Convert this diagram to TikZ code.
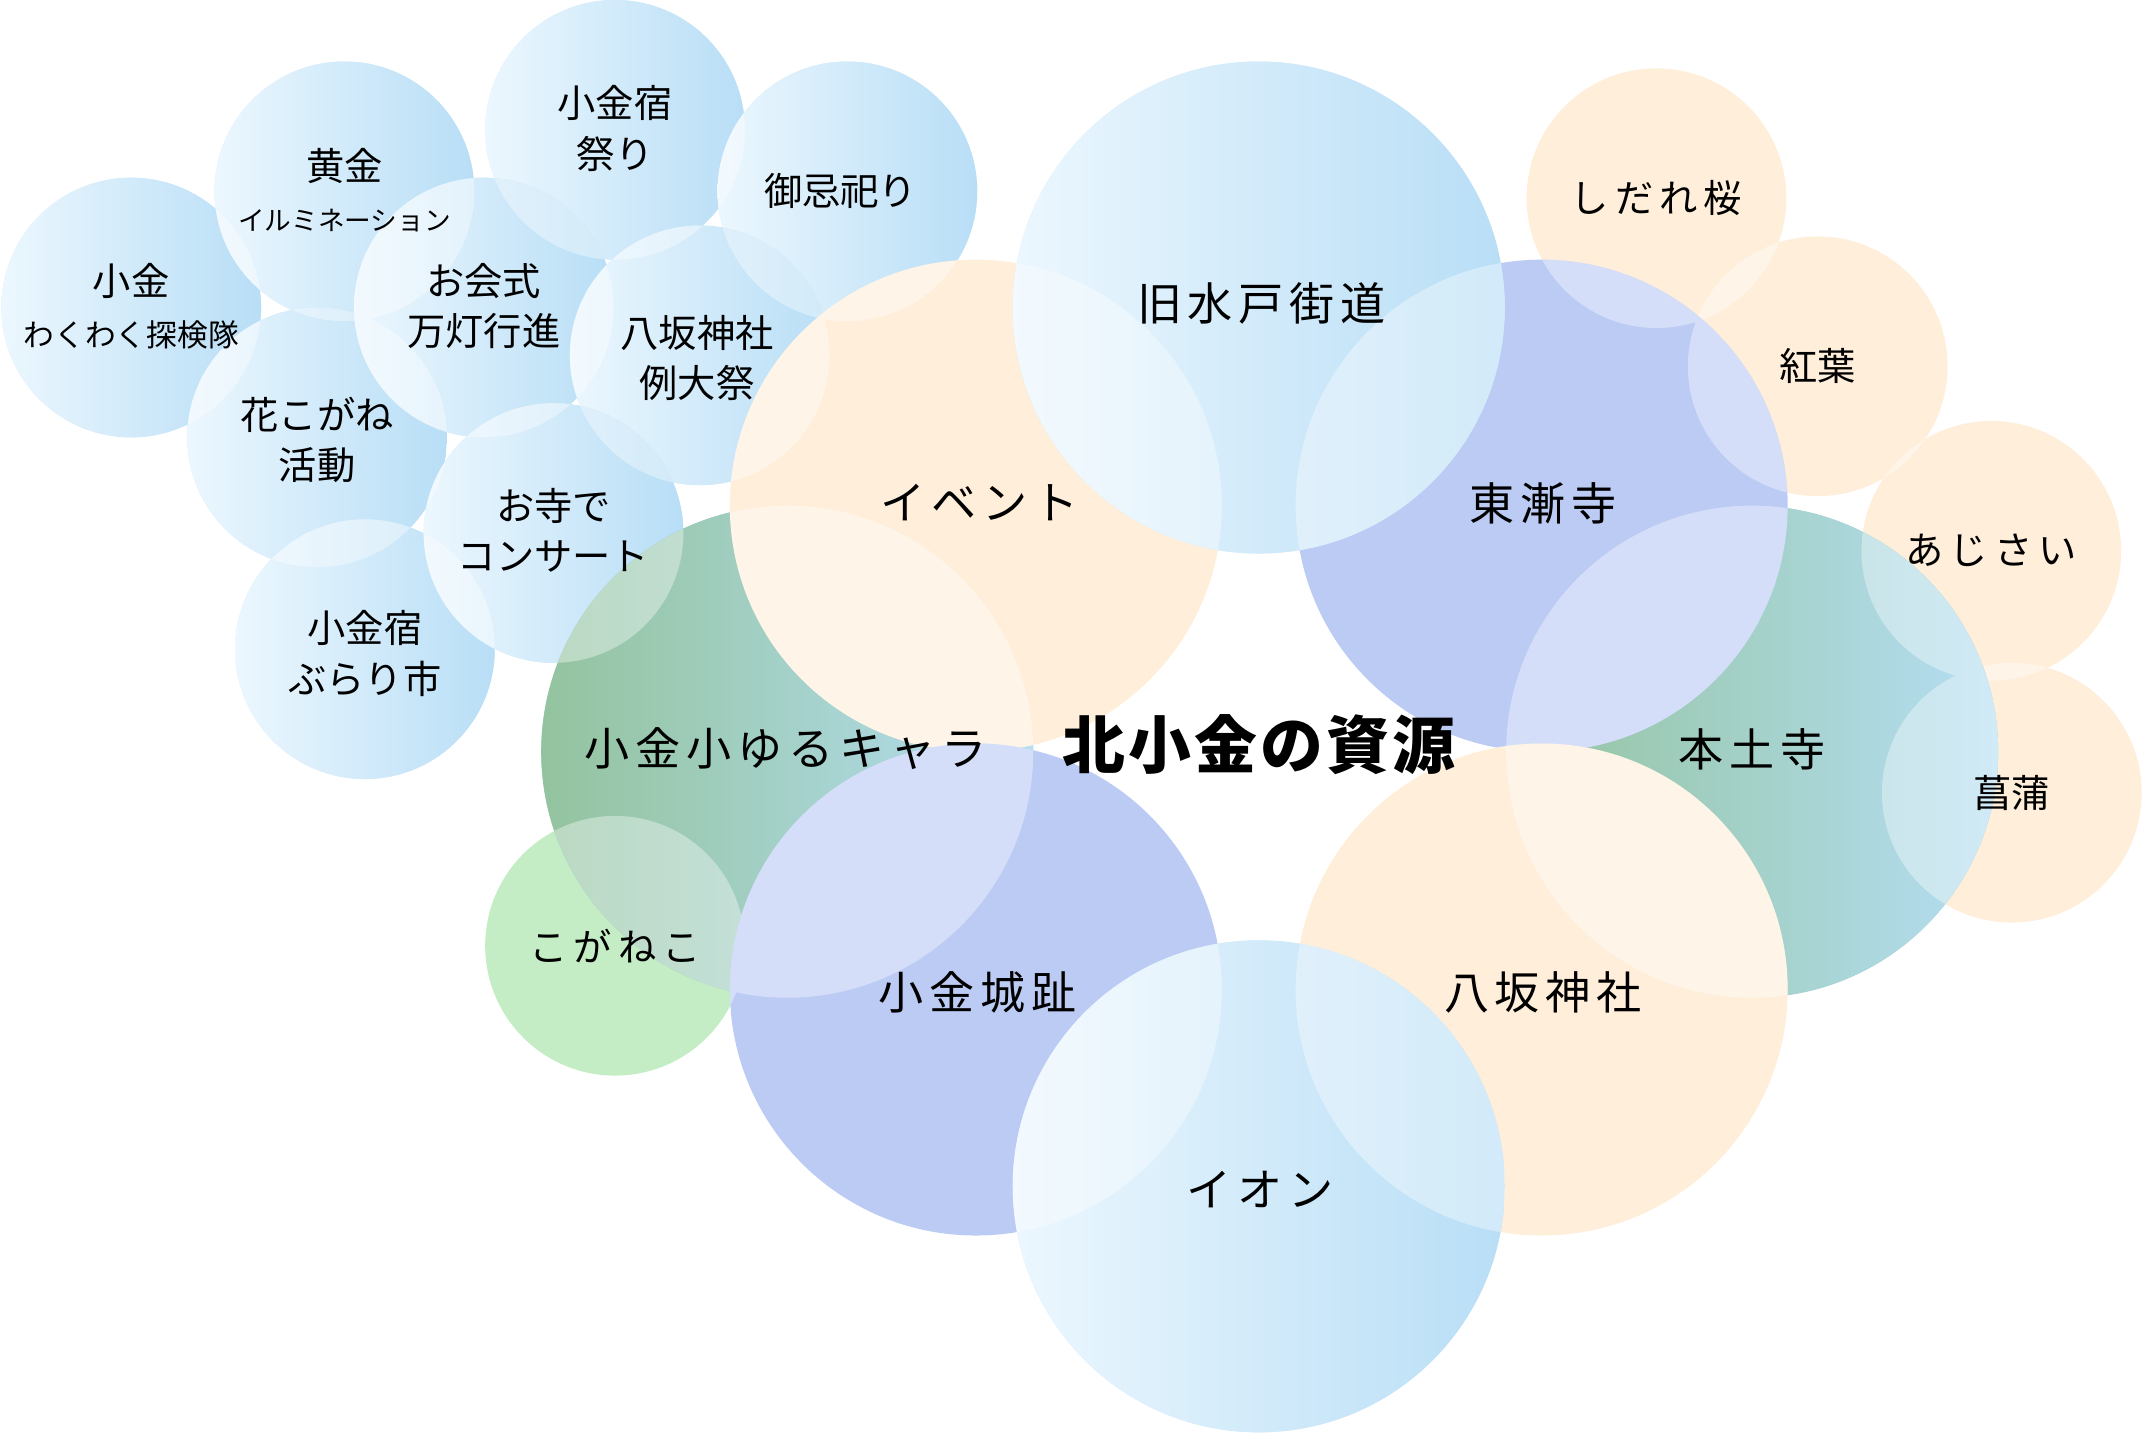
\documentclass[tikz,border=0pt]{standalone}
\usepackage{fontspec}
\newfontfamily\jp{Noto Sans CJK JP}
\newfontfamily\jpwide[LetterSpace=13]{Noto Sans CJK JP}
\newfontfamily\jpkana[LetterSpace=16]{Noto Sans CJK JP}
\newfontfamily\jptitle[LetterSpace=5]{Noto Sans CJK JP}

\definecolor{skyL}{RGB}{236,247,254}
\definecolor{skyR}{RGB}{184,222,246}
\definecolor{peach}{RGB}{254,238,218}
\definecolor{lavender}{RGB}{188,203,244}
\definecolor{sageL}{RGB}{147,195,158}
\definecolor{sageR}{RGB}{181,222,243}
\definecolor{mint}{RGB}{196,237,198}

\tikzset{
	sky/.style={fill=skyL!50!skyR, left color=skyL, right color=skyR},
	warm/.style={fill=peach},
	lav/.style={fill=lavender},
	sage/.style={fill=sageL!50!sageR, left color=sageL, right color=sageR},
	mintfill/.style={fill=mint},
	biglabel/.style={font=\jpwide\fontsize{33}{40}\selectfont},
	smalllabel/.style={font=\jp\fontsize{28}{37}\selectfont, align=center},
	kanalabel/.style={font=\jpkana\fontsize{28}{37}\selectfont},
}

\def\bubbles{}
\def\bubble[#1](#2)(#3){%
	\fill[#1] (#2) circle (#3);
	\begin{scope}
		\clip (#2) circle (#3);
		\fill[white, fill opacity=0.37] \bubbles;
	\end{scope}
	\xdef\bubbles{\bubbles (#2) circle (#3)}}

\begin{document}
\begin{tikzpicture}[x=1pt, y=-1pt]
		%%%%% START %%%%%
		\useasboundingbox (0, 0) rectangle (1568, 1049);
		
		% small bubbles
		\bubble[sky](96, 225)(95);
		\bubble[sky](252, 140)(95);
		\bubble[sky](450, 95)(95);
		\bubble[sky](232, 320)(95);
		\bubble[sky](354, 225)(95);
		\bubble[sky](620, 140)(95);
		\bubble[sky](512, 260)(95);
		\bubble[sky](267, 475)(95);
		\bubble[sky](405, 390)(95);
		
		\bubble[warm](1212, 145)(95);
		\bubble[warm](1330, 268)(95);
		\bubble[warm](1457, 403)(95);
		\bubble[warm](1472, 580)(95);
		\bubble[mintfill](450, 692)(95);
		
		% big bubbles
		\bubble[sage](576, 550)(180);
		\bubble[sage](1282, 550)(180);
		\bubble[lav](1128, 370)(180);
		\bubble[warm](714, 370)(180);
		\bubble[lav](714, 724)(180);
		\bubble[warm](1128, 724)(180);
		\bubble[sky](921, 225)(180);
		\bubble[sky](921, 868)(180);
		
		% labels
		\node[biglabel] (kaido) at (923, 222) {旧水戸街道};
		\node[biglabel] (event) at (717, 368) {イベント};
		\node[biglabel] (tozenji) at (1129, 368) {東漸寺};
		\node[biglabel] (yurukyara) at (575, 548) {小金小ゆるキャラ};
		\node[biglabel] (hondoji) at (1282, 548) {本土寺};
		\node[biglabel] (joshi) at (715, 726) {小金城趾};
		\node[biglabel] (yasaka) at (1129, 726) {八坂神社};
		\node[biglabel] (aeon) at (922, 870) {イオン};
		\node[font=\jptitle\bfseries\fontsize{46}{52}\selectfont] (title) at (921, 545) {北小金の資源};
		
		\node[smalllabel] (tanken) at (96, 224) {小金\\{\fontsize{22.5}{28}\selectfont わくわく探検隊}};
		\node[smalllabel] (illumi) at (252, 139) {黄金\\{\fontsize{19.5}{25}\selectfont イルミネーション}};
		\node[smalllabel] (matsuri) at (450, 94) {小金宿\\祭り};
		\node[smalllabel] (oeshiki) at (354, 224) {お会式\\万灯行進};
		\node[smalllabel] (gyoki) at (615, 140) {御忌祀り};
		\node[smalllabel] (reitaisai) at (510, 262) {八坂神社\\例大祭};
		\node[smalllabel] (hana) at (232, 322) {花こがね\\活動};
		\node[smalllabel] (concert) at (405, 388) {お寺で\\コンサート};
		\node[smalllabel] (burari) at (267, 478) {小金宿\\ぶらり市};
		
		\node[kanalabel] (koganeko) at (450, 692) {こがねこ};
		\node[kanalabel] (shidare) at (1212, 145) {しだれ桜};
		\node[smalllabel] (koyo) at (1330, 268) {紅葉};
		\node[kanalabel] (ajisai) at (1457, 403) {あじさい};
		\node[smalllabel] (shobu) at (1472, 580) {菖蒲};
		%%%%% END %%%%%
\end{tikzpicture}
\end{document}
